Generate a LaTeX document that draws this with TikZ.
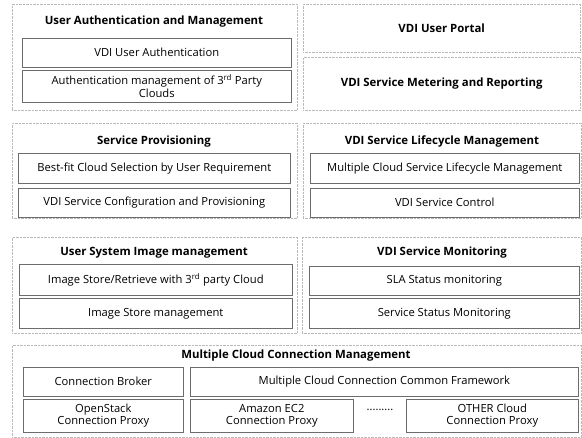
\documentclass[tikz,border=0pt]{standalone}
\usepackage{fontspec}
\setmainfont{Open Sans}

\begin{document}
\begin{tikzpicture}[x=1pt,y=-1pt,
    box size/.style 2 args={minimum width=#1pt,minimum height=#2pt},
    group/.style={draw=gray!55,densely dotted,anchor=north west,inner sep=0pt},
    item/.style={draw=gray!85!black,line width=0.6pt,anchor=north west,inner sep=0pt,
                 align=center,font=\fontsize{11.2}{12.5}\selectfont},
    title/.style={font=\fontsize{11.4}{13}\selectfont\bfseries}
  ]
  \useasboundingbox (0,0) rectangle (582,438);

  % row 1
  \node[group,box size={285}{106}] (authgrp) at (12,4) {};
  \node[title] (authttl) at (154,22) {User Authentication and Management};
  \node[item,box size={269}{29}] (vdiauth) at (22,38) {VDI User Authentication};
  \node[item,box size={269}{32}] (authmgmt) at (22,70)
    {Authentication management of 3\textsuperscript{rd} Party\\Clouds};
  \node[group,box size={277}{48},title] (portal) at (303,4) {VDI User Portal};
  \node[group,box size={277}{53},title] (metering) at (303,57) {VDI Service Metering and Reporting};

  % row 2
  \node[group,box size={285}{95}] (provgrp) at (12,123) {};
  \node[title] (provttl) at (154,142) {Service Provisioning};
  \node[item,box size={272}{30}] (bestfit) at (18,153) {Best-fit Cloud Selection by User Requirement};
  \node[item,box size={272}{29}] (config) at (18,188) {VDI Service Configuration and Provisioning};
  \node[group,box size={278}{95}] (lifegrp) at (303,123) {};
  \node[title] (lifettl) at (442,142) {VDI Service Lifecycle Management};
  \node[item,box size={269}{30}] (multilife) at (310,153) {Multiple Cloud Service Lifecycle Management};
  \node[item,box size={269}{29}] (control) at (310,188) {VDI Service Control};

  % row 3
  \node[group,box size={285}{96}] (imggrp) at (12,237) {};
  \node[title] (imgttl) at (154,253) {User System Image management};
  \node[item,box size={273}{31}] (imgstore) at (19,264)
    {Image Store/Retrieve with 3\textsuperscript{rd} party Cloud};
  \node[item,box size={273}{30}] (imgmgmt) at (19,298) {Image Store management};
  \node[group,box size={279}{96}] (mongrp) at (302,237) {};
  \node[title] (monttl) at (442,253) {VDI Service Monitoring};
  \node[item,box size={270}{29}] (sla) at (309,266) {SLA Status monitoring};
  \node[item,box size={270}{30}] (status) at (309,298) {Service Status Monitoring};

  % row 4
  \node[group,box size={569}{92}] (conngrp) at (12,345) {};
  \node[title] (connttl) at (296,356) {Multiple Cloud Connection Management};
  \node[item,box size={160}{29}] (broker) at (23,367) {Connection Broker};
  \node[item,box size={388}{29}] (common) at (190,367) {Multiple Cloud Connection Common Framework};
  \node[item,box size={160}{33}] (openstack) at (23,399) {OpenStack\\Connection Proxy};
  \node[item,box size={163}{33}] (amazon) at (190,399) {Amazon EC2\\Connection Proxy};
  \node[font=\fontsize{11.2}{12.5}\selectfont] (dots) at (380,410) {.........};
  \node[item,box size={172}{33}] (other) at (406,399) {OTHER Cloud\\Connection Proxy};
\end{tikzpicture}
\end{document}
